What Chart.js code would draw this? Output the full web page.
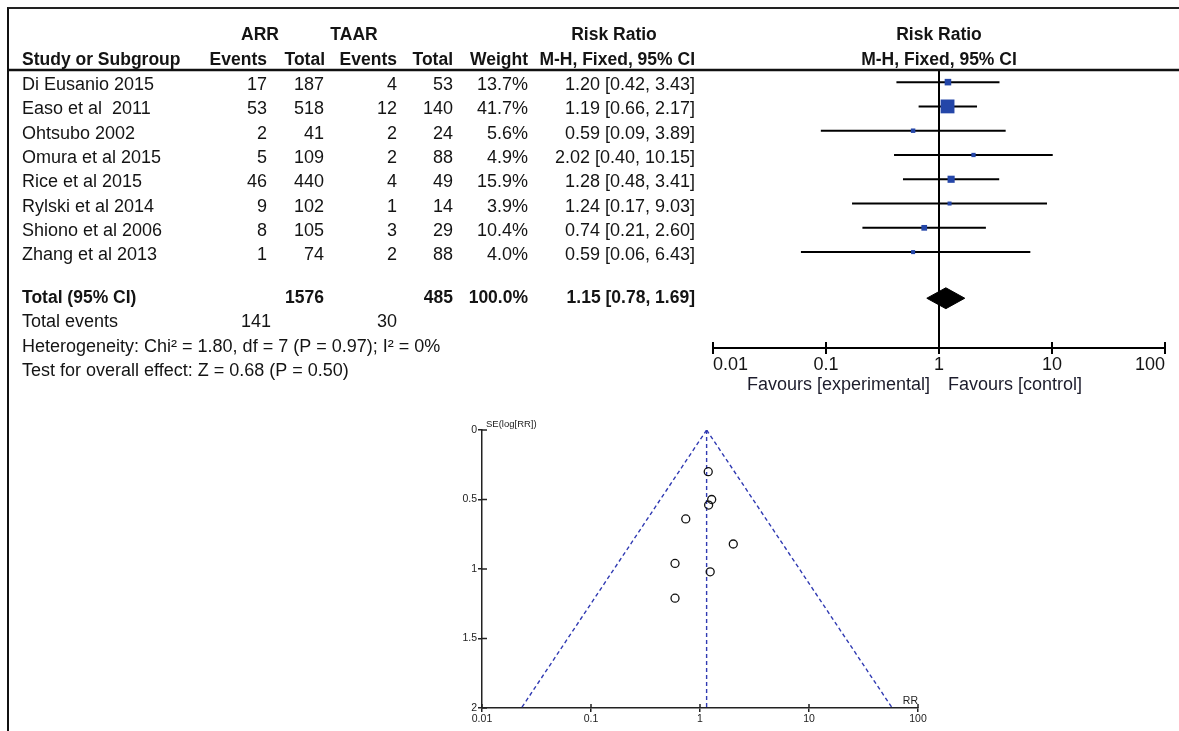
<!DOCTYPE html>
<html>
<head>
<meta charset="utf-8">
<script src="https://cdn.jsdelivr.net/npm/chart.js@4.4.1/dist/chart.umd.min.js"></script>
<style>
  html, body { margin: 0; padding: 0; background: #fff; width: 1179px; height: 731px; overflow: hidden; position: relative; }
  #frame { position: absolute; left: 7px; top: 7px; width: 1180px; height: 730px; border-top: 2px solid #222; border-left: 2px solid #111; box-sizing: border-box; }
  #forestWrap { position: absolute; left: 0; top: 0; width: 1179px; height: 400px; }
  #funnelWrap { position: absolute; left: 420px; top: 400px; width: 520px; height: 331px; }
  canvas { display: block; }
</style>
</head>
<body>
<div id="frame"></div>
<div id="forestWrap"><canvas id="forest" width="1179" height="400"></canvas></div>
<div id="funnelWrap"><canvas id="funnel" width="520" height="331"></canvas></div>
<script>
// ---- study data ----
const studies    = ['Di Eusanio 2015', 'Easo et al  2011', 'Ohtsubo 2002', 'Omura et al 2015',
                    'Rice et al 2015', 'Rylski et al 2014', 'Shiono et al 2006', 'Zhang et al 2013'];
const arrEvents  = [17, 53, 2, 5, 46, 9, 8, 1];
const arrTotal   = [187, 518, 41, 109, 440, 102, 105, 74];
const taarEvents = [4, 12, 2, 2, 4, 1, 3, 2];
const taarTotal  = [53, 140, 24, 88, 49, 14, 29, 88];
const weights    = [13.7, 41.7, 5.6, 4.9, 15.9, 3.9, 10.4, 4.0];
const riskRatio  = [1.20, 1.19, 0.59, 2.02, 1.28, 1.24, 0.74, 0.59];
const ciLow      = [0.42, 0.66, 0.09, 0.40, 0.48, 0.17, 0.21, 0.06];
const ciHigh     = [3.43, 2.17, 3.89, 10.15, 3.41, 9.03, 2.60, 6.43];
const seLogRR    = [0.54, 0.30, 0.96, 0.82, 0.50, 1.02, 0.64, 1.21];

// ---- pooled result ----
const totalArr = 1576, totalTaar = 485, totalWeight = '100.0%';
const eventsArr = 141, eventsTaar = 30;
const pooledRR = 1.15, pooledLow = 0.78, pooledHigh = 1.69;
const heterogeneityText = 'Heterogeneity: Chi\u00B2 = 1.80, df = 7 (P = 0.97); I\u00B2 = 0%';
const overallText = 'Test for overall effect: Z = 0.68 (P = 0.50)';

// ---- funnel limits (pseudo 95% CI) ----
const funnelSE   = [0, 2];
const funnelLow  = [1.15, 0.023];
const funnelHigh = [1.15, 58];

// ---- tick labels ----
const rrTickValues = [0.01, 0.1, 1, 10, 100];
const rrTickLabels = ['0.01', '0.1', '1', '10', '100'];
const seTickValues = [0, 0.5, 1, 1.5, 2];
const seTickLabels = ['0', '0.5', '1', '1.5', '2'];

const FONT = '"Liberation Sans", Arial, Helvetica, sans-serif';
const INK = '#141414';

function text(ctx, s, x, y, align, bold, size, color) {
  ctx.font = (bold ? 'bold ' : '') + size + 'px ' + FONT;
  ctx.textAlign = align;
  ctx.textBaseline = 'middle';
  ctx.fillStyle = color || INK;
  ctx.fillText(s, x, y);
}

// ================= forest plot =================
const rowOf = i => i + 0.5;
const TOTAL_ROW = 9.4;
const Y_MAX = 11.45;
const fmt = v => v.toFixed(2);

const forestData = [];
forestData.push({
  order: 0,
  data: riskRatio.map((v, i) => ({ x: v, y: rowOf(i) })),
  showLine: false,
  pointStyle: 'rect',
  pointRadius: weights.map(w => (3 + 0.26 * w) / Math.SQRT2),
  backgroundColor: '#2446a8',
  borderWidth: 0
});
forestData.push({
  order: 1,
  data: [{ x: pooledLow, y: TOTAL_ROW }, { x: pooledRR, y: TOTAL_ROW - 0.43 },
         { x: pooledHigh, y: TOTAL_ROW }, { x: pooledRR, y: TOTAL_ROW + 0.43 },
         { x: pooledLow, y: TOTAL_ROW }],
  showLine: true, fill: 'shape', tension: 0,
  backgroundColor: '#000', borderColor: '#000', borderWidth: 1, pointRadius: 0
});
studies.forEach((s, i) => forestData.push({
  order: 2,
  data: [{ x: ciLow[i], y: rowOf(i) }, { x: ciHigh[i], y: rowOf(i) }],
  showLine: true, borderColor: '#000', borderWidth: 2, pointRadius: 0
}));
forestData.push({
  order: 3,
  data: [{ x: 1, y: 0 }, { x: 1, y: Y_MAX }],
  showLine: true, borderColor: '#000', borderWidth: 2, pointRadius: 0
});

const forestTable = {
  id: 'forestTable',
  afterDraw(chart) {
    const ctx = chart.ctx;
    const ys = chart.scales.y, xs = chart.scales.x;
    ctx.save();
    // header rule
    ctx.strokeStyle = '#111';
    ctx.lineWidth = 2.5;
    ctx.beginPath(); ctx.moveTo(8, 70); ctx.lineTo(1179, 70); ctx.stroke();

    // headers
    text(ctx, 'ARR', 260, 35, 'center', true, 17.5);
    text(ctx, 'TAAR', 354, 35, 'center', true, 17.5);
    text(ctx, 'Risk Ratio', 614, 35, 'center', true, 17.5);
    text(ctx, 'Risk Ratio', 939, 35, 'center', true, 17.5);
    text(ctx, 'Study or Subgroup', 22, 60, 'left', true, 17.5);
    text(ctx, 'Events', 267, 60, 'right', true, 17.5);
    text(ctx, 'Total', 325, 60, 'right', true, 17.5);
    text(ctx, 'Events', 397, 60, 'right', true, 17.5);
    text(ctx, 'Total', 453, 60, 'right', true, 17.5);
    text(ctx, 'Weight', 528, 60, 'right', true, 17.5);
    text(ctx, 'M-H, Fixed, 95% CI', 695, 60, 'right', true, 17.5);
    text(ctx, 'M-H, Fixed, 95% CI', 939, 60, 'center', true, 17.5);

    // study rows
    studies.forEach((s, i) => {
      const y = ys.getPixelForValue(rowOf(i)) + 3;
      text(ctx, s, 22, y, 'left', false, 18);
      text(ctx, String(arrEvents[i]), 267, y, 'right', false, 18);
      text(ctx, String(arrTotal[i]), 324, y, 'right', false, 18);
      text(ctx, String(taarEvents[i]), 397, y, 'right', false, 18);
      text(ctx, String(taarTotal[i]), 453, y, 'right', false, 18);
      text(ctx, weights[i].toFixed(1) + '%', 528, y, 'right', false, 18);
      text(ctx, fmt(riskRatio[i]) + ' [' + fmt(ciLow[i]) + ', ' + fmt(ciHigh[i]) + ']', 695, y, 'right', false, 18);
    });

    // totals
    let y = ys.getPixelForValue(TOTAL_ROW);
    text(ctx, 'Total (95% CI)', 22, y, 'left', true, 17.5);
    text(ctx, String(totalArr), 324, y, 'right', true, 17.5);
    text(ctx, String(totalTaar), 453, y, 'right', true, 17.5);
    text(ctx, totalWeight, 528, y, 'right', true, 17.5);
    text(ctx, fmt(pooledRR) + ' [' + fmt(pooledLow) + ', ' + fmt(pooledHigh) + ']', 695, y, 'right', true, 17.5);
    y = ys.getPixelForValue(TOTAL_ROW + 1);
    text(ctx, 'Total events', 22, y, 'left', false, 18);
    text(ctx, String(eventsArr), 271, y, 'right', false, 18);
    text(ctx, String(eventsTaar), 397, y, 'right', false, 18);
    text(ctx, heterogeneityText, 22, ys.getPixelForValue(TOTAL_ROW + 2), 'left', false, 18);
    text(ctx, overallText, 22, ys.getPixelForValue(TOTAL_ROW + 3), 'left', false, 18);

    // axis: upward halves of tick marks and tick labels
    const axisY = chart.chartArea.bottom;
    ctx.strokeStyle = '#000';
    ctx.lineWidth = 2;
    xs.ticks.forEach((t, i) => {
      const px = xs.getPixelForValue(t.value);
      ctx.beginPath(); ctx.moveTo(px, axisY - 6); ctx.lineTo(px, axisY); ctx.stroke();
      const align = i === 0 ? 'left' : (i === xs.ticks.length - 1 ? 'right' : 'center');
      text(ctx, rrTickLabels[i], px, axisY + 17, align, false, 18);
    });
    const one = xs.getPixelForValue(1);
    text(ctx, 'Favours [experimental]', one - 9, axisY + 37, 'right', false, 18, '#1c1c2c');
    text(ctx, 'Favours [control]', one + 9, axisY + 37, 'left', false, 18, '#1c1c2c');
    ctx.restore();
  }
};

new Chart(document.getElementById('forest'), {
  type: 'scatter',
  data: { datasets: forestData },
  options: {
    responsive: false,
    animation: false,
    events: [],
    devicePixelRatio: 1,
    layout: { padding: { left: 713, right: 14, top: 70, bottom: 46 } },
    plugins: { legend: { display: false }, tooltip: { enabled: false } },
    scales: {
      x: {
        type: 'logarithmic', min: 0.01, max: 100, position: 'bottom',
        afterBuildTicks: s => { s.ticks = rrTickValues.map(v => ({ value: v })); },
        afterFit: s => { s.height = 6; },
        ticks: { display: false },
        grid: { display: true, drawOnChartArea: false, drawTicks: true, tickLength: 6, color: '#000', lineWidth: 2 },
        border: { display: true, color: '#000', width: 2 }
      },
      y: { type: 'linear', min: 0, max: Y_MAX, reverse: true, display: false }
    }
  },
  plugins: [forestTable]
});

// ================= funnel plot =================
const dashBlue = 'rgb(48,58,178)';
const funnelExtras = {
  id: 'funnelExtras',
  afterDraw(chart) {
    const ctx = chart.ctx;
    const xs = chart.scales.x, ys = chart.scales.y;
    const { left, bottom, right, top } = chart.chartArea;
    ctx.save();
    ctx.strokeStyle = '#222';
    ctx.lineWidth = 1.5;
    ys.ticks.forEach(t => {
      const py = ys.getPixelForValue(t.value);
      ctx.beginPath(); ctx.moveTo(left, py); ctx.lineTo(left + 5, py); ctx.stroke();
    });
    xs.ticks.forEach(t => {
      const px = xs.getPixelForValue(t.value);
      ctx.beginPath(); ctx.moveTo(px, bottom - 4); ctx.lineTo(px, bottom); ctx.stroke();
    });
    text(ctx, 'SE(log[RR])', left + 4, top - 6, 'left', false, 9.5, '#222');
    text(ctx, 'RR', right, bottom - 7, 'right', false, 10.5, '#222');
    ctx.restore();
  }
};

const dashed = (pts) => ({
  data: pts, showLine: true, borderColor: dashBlue, borderWidth: 1.4,
  borderDash: [4, 3], pointRadius: 0, order: 2
});

new Chart(document.getElementById('funnel'), {
  type: 'scatter',
  data: {
    datasets: [
      {
        order: 0,
        data: riskRatio.map((v, i) => ({ x: v, y: seLogRR[i] })),
        pointStyle: 'circle', pointRadius: 4,
        backgroundColor: 'rgba(255,255,255,0)', borderColor: '#111', borderWidth: 1.3
      },
      dashed(funnelSE.map((s, i) => ({ x: funnelLow[i], y: s }))),
      dashed(funnelSE.map((s, i) => ({ x: funnelHigh[i], y: s }))),
      dashed(funnelSE.map(s => ({ x: pooledRR, y: s })))
    ]
  },
  options: {
    responsive: false,
    animation: false,
    events: [],
    devicePixelRatio: 1,
    layout: { padding: { left: 42, right: 22, top: 30, bottom: 3 } },
    plugins: { legend: { display: false }, tooltip: { enabled: false } },
    scales: {
      x: {
        type: 'logarithmic', min: 0.01, max: 100,
        afterBuildTicks: s => { s.ticks = rrTickValues.map(v => ({ value: v })); },
        afterFit: s => { s.height = 20; },
        ticks: { callback: (v, i) => rrTickLabels[i], font: { size: 10.5, family: FONT }, color: '#222',
                 padding: 1, maxRotation: 0, autoSkip: false },
        grid: { drawOnChartArea: false, tickLength: 4, color: '#222', lineWidth: 1.5 },
        border: { color: '#222', width: 1.5 }
      },
      y: {
        type: 'linear', min: 0, max: 2, reverse: true,
        afterBuildTicks: s => { s.ticks = seTickValues.map(v => ({ value: v })); },
        afterFit: s => { s.width = 20; },
        ticks: { callback: (v, i) => seTickLabels[i], font: { size: 10.5, family: FONT }, color: '#222',
                 padding: 1, autoSkip: false },
        grid: { drawOnChartArea: false, tickLength: 4, color: '#222', lineWidth: 1.5 },
        border: { color: '#222', width: 1.5 }
      }
    }
  },
  plugins: [funnelExtras]
});
</script>
</body>
</html>
